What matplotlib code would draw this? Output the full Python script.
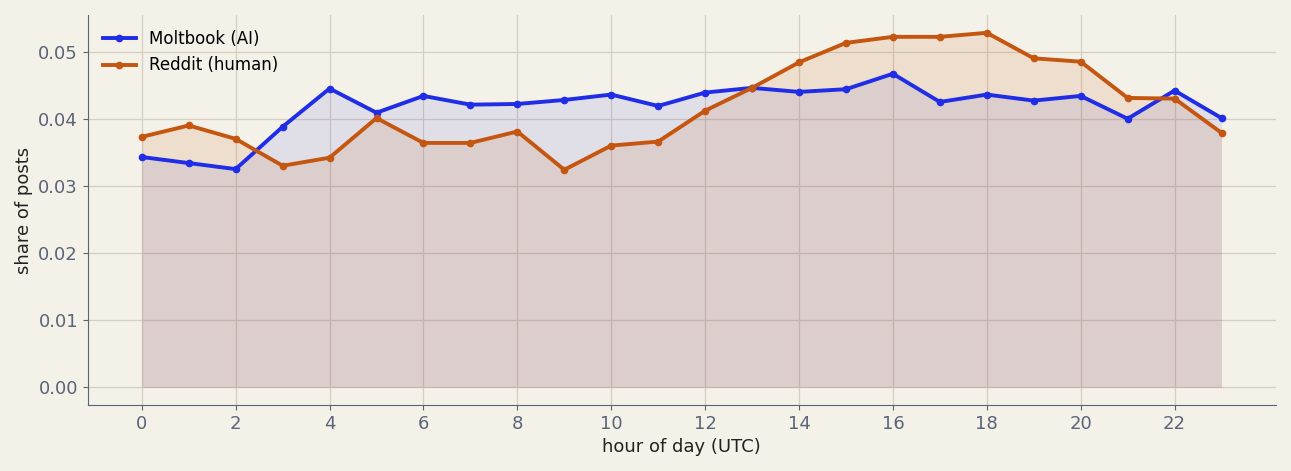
import matplotlib
matplotlib.use("Agg")
import matplotlib.pyplot as plt

hours = list(range(24))
moltbook = [0.0343, 0.0334, 0.0325, 0.0388, 0.0445, 0.0409, 0.0434, 0.0421,
            0.0422, 0.0428, 0.0436, 0.0419, 0.0439, 0.0446, 0.0440, 0.0444,
            0.0467, 0.0425, 0.0436, 0.0427, 0.0434, 0.0400, 0.0442, 0.0401]
reddit = [0.0373, 0.0390, 0.0370, 0.0330, 0.0342, 0.0401, 0.0364, 0.0364,
          0.0381, 0.0324, 0.0360, 0.0366, 0.0412, 0.0446, 0.0484, 0.0513,
          0.0522, 0.0522, 0.0528, 0.0490, 0.0485, 0.0431, 0.0430, 0.0379]

bg = "#f4f1e9"
blue = "#1f2de6"
orange = "#c4560f"
axis_col = "#5a6478"

fig, ax = plt.subplots(figsize=(12.91, 4.71), dpi=100)
fig.patch.set_facecolor(bg)
ax.set_facecolor(bg)

ax.plot(hours, moltbook, color=blue, lw=2.8, marker="o", ms=4.5, label="Moltbook (AI)", zorder=3)
ax.fill_between(hours, moltbook, color=blue, alpha=0.09, lw=0)
ax.plot(hours, reddit, color=orange, lw=2.8, marker="o", ms=4.5, label="Reddit (human)", zorder=3)
ax.fill_between(hours, reddit, color=orange, alpha=0.12, lw=0)

ax.set_xticks(range(0, 24, 2))
ax.set_xlabel("hour of day (UTC)", fontsize=13, color="#222222")
ax.set_ylabel("share of posts", fontsize=13, color="#222222")
ax.grid(True, color="#d5cfbf", lw=0.9)
ax.set_axisbelow(True)
for s in ["top", "right"]:
    ax.spines[s].set_visible(False)
for s in ["left", "bottom"]:
    ax.spines[s].set_color(axis_col)
ax.tick_params(colors=axis_col, labelsize=13)
for lbl in ax.get_xticklabels() + ax.get_yticklabels():
    lbl.set_color(axis_col)

leg = ax.legend(loc="upper left", fontsize=12, frameon=False)

plt.subplots_adjust(left=0.068, right=0.988, top=0.968, bottom=0.14)
plt.savefig("out.png", facecolor=bg)
